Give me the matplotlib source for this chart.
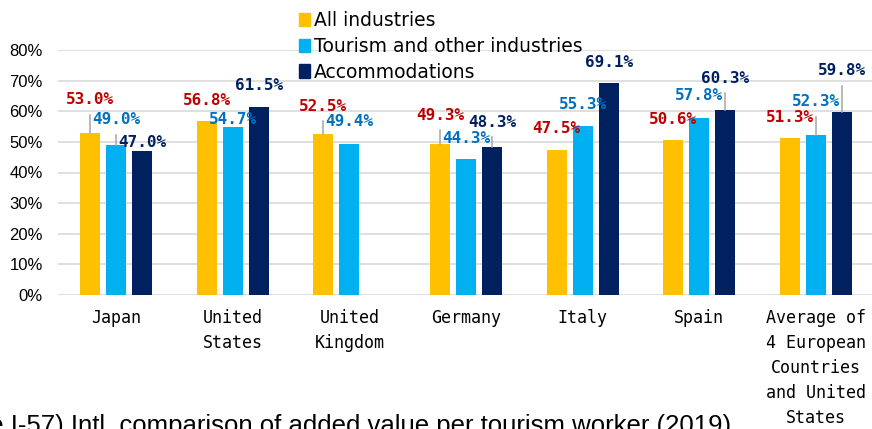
import numpy as np
import matplotlib.pyplot as plt
from matplotlib.patches import Patch

countries = ["Japan", "United\nStates", "United\nKingdom", "Germany", "Italy", "Spain",
             "Average of\n4 European\nCountries\nand United\nStates"]
series = ["All industries", "Tourism and other industries", "Accommodations"]
all_ind = [53.0, 56.8, 52.5, 49.3, 47.5, 50.6, 51.3]
tourism = [49.0, 54.7, 49.4, 44.3, 55.3, 57.8, 52.3]
accom = [47.0, 61.5, np.nan, 48.3, 69.1, 60.3, 59.8]

bar_cols = ["#FFC000", "#00B0F0", "#002060"]
lab_cols = ["#C00000", "#0070C0", "#002060"]

# how far (px) each value label sits above its bar top
lift = [[33, 21, 28, 29, 21, 21, 20],
        [25, 8, 22, 21, 21, 22, 33],
        [9, 21, 0, 25, 21, 32, 41]]

W, H = 872, 429
ax_h = 245
fig = plt.figure(figsize=(W/100, H/100), dpi=100)
ax = fig.add_axes([58/W, (H-295)/H, 816/W, ax_h/H])
px_per_pct = ax_h/80

x = np.arange(len(countries))
bw, step = 0.172, 0.223
vals = [all_ind, tourism, accom]
for i, v in enumerate(vals):
    xs = x + (i-1)*step
    ax.bar(xs, v, width=bw, color=bar_cols[i], zorder=3)
    for xi, vi, dy in zip(xs, v, lift[i]):
        if np.isnan(vi):
            continue
        ax.annotate(f"{vi:.1f}%", (xi, vi), xytext=(0, dy), textcoords="offset pixels",
                    ha="center", va="center", color=lab_cols[i], fontsize=11.5,
                    fontweight="bold", family="DejaVu Sans Mono", zorder=5)
        if dy > 23:
            # leader line from bar top up to the moved label
            ax.plot([xi, xi], [vi, vi + (dy-15)/px_per_pct], color="#A6A6A6",
                    lw=1.1, zorder=4)

ax.set_xlim(-0.5, 6.5)
ax.set_ylim(0, 80)
ax.set_yticks(np.arange(0, 81, 10))
ax.set_yticklabels([f"{t}%" for t in range(0, 81, 10)],
                   family="Liberation Sans", fontsize=12)
ax.set_xticks(x)
ax.set_xticklabels(countries, family="DejaVu Sans Mono", fontsize=12, linespacing=1.5)
ax.tick_params(axis="both", length=0)
ax.tick_params(axis="y", pad=11)
ax.tick_params(axis="x", pad=10)
ax.grid(axis="y", color="#D9D9D9", lw=1.2, zorder=0)
for s in ax.spines.values():
    s.set_visible(False)

handles = [Patch(color=c) for c in bar_cols]
fig.legend(handles, series, loc="upper left", bbox_to_anchor=(299/W, 1-11/H),
           frameon=False, fontsize=13.5, handlelength=0.6, handleheight=0.7,
           handletextpad=0.2, labelspacing=0.36, borderpad=0, borderaxespad=0)

fig.text(731/W, -4/H, "(Figure I-57) Intl. comparison of added value per tourism worker (2019)",
         ha="right", va="baseline", fontsize=18.5, family="Liberation Sans")

fig.savefig("out.png", dpi=100)
